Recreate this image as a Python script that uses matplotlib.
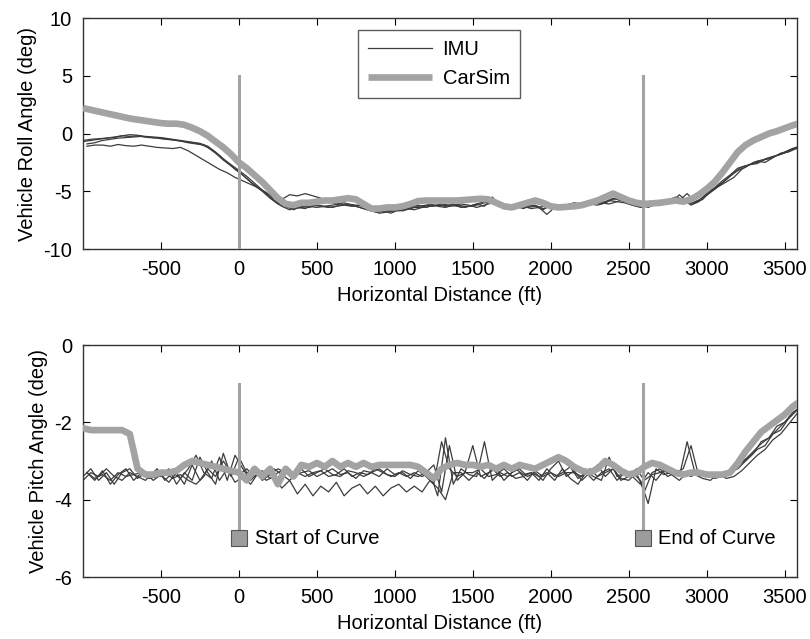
import numpy as np
import matplotlib
matplotlib.use("Agg")
import matplotlib.pyplot as plt

plt.rcParams['font.family'] = ['Liberation Sans', 'DejaVu Sans']
plt.rcParams['axes.unicode_minus'] = False

# distance grid (ft), 50 ft steps; second grid shifted by 25 ft for some runs
dist = np.arange(-1000, 3601, 50)
dist_shift = dist + 25

curve_start = 0
curve_end = 2590

# ---- roll angle (deg) ----
roll_carsim = [
    2.2, 2.05, 1.9, 1.75, 1.6, 1.45, 1.3, 1.2, 1.1, 1.0,
    0.9, 0.85, 0.85, 0.75, 0.5, 0.2, -0.2, -0.7, -1.2, -1.8,
    -2.5, -3.0, -3.6, -4.2, -4.9, -5.6, -6.1, -6.2, -6.0, -6.0,
    -5.9, -5.8, -5.8, -5.7, -5.6, -5.7, -6.1, -6.5, -6.5, -6.4,
    -6.4, -6.3, -6.1, -5.85, -5.8, -5.8, -5.8, -5.8, -5.8, -5.75,
    -5.7, -5.65, -5.7, -6.0, -6.3, -6.4, -6.2, -6.0, -5.8, -6.0,
    -6.3, -6.4, -6.35, -6.3, -6.2, -6.0, -5.8, -5.5, -5.2, -5.5,
    -5.8, -6.0, -6.1, -6.05, -6.0, -5.9, -5.8, -5.9, -5.7, -5.3,
    -4.8, -4.2, -3.4, -2.5, -1.6, -1.0, -0.6, -0.3, 0.0, 0.2,
    0.45, 0.7, 0.9,
]

roll_imu_a = [
    -0.7, -0.6, -0.5, -0.4, -0.35, -0.2, -0.25, -0.2, -0.3, -0.35,
    -0.4, -0.5, -0.6, -0.7, -0.8, -0.9, -1.2, -1.7, -2.3, -2.8,
    -3.3, -3.9, -4.5, -5.0, -5.6, -6.1, -6.4, -6.5, -6.4, -6.3,
    -6.4, -6.3, -6.2, -6.1, -6.2, -6.3, -6.5, -6.7, -6.8, -6.7,
    -6.6, -6.7, -6.5, -6.3, -6.2, -6.3, -6.1, -6.2, -6.3, -6.4,
    -6.2, -6.0, -5.8, -6.1, -6.3, -6.5, -6.4, -6.3, -6.2, -6.5,
    -6.3, -6.4, -6.2, -6.0, -6.1, -6.2, -6.0, -5.9, -5.6, -5.8,
    -6.1, -6.3, -6.2, -6.0, -6.1, -5.9, -5.6, -5.8, -6.1, -5.8,
    -5.2, -4.7, -4.1, -3.6, -3.0, -2.8, -2.6, -2.4, -2.1, -1.9,
    -1.6, -1.3, -1.1,
]
roll_imu_b = [
    -0.9, -0.8, -0.6, -0.5, -0.4, -0.35, -0.3, -0.25, -0.35, -0.4,
    -0.5, -0.55, -0.65, -0.8, -0.9, -1.0, -1.4, -1.9, -2.5, -3.1,
    -3.6, -4.2, -4.7, -5.2, -5.8, -6.3, -6.6, -6.4, -6.5, -6.2,
    -6.3, -6.4, -6.3, -6.2, -6.3, -6.2, -6.4, -6.6, -6.7, -6.6,
    -6.7, -6.5, -6.6, -6.4, -6.3, -6.2, -6.3, -6.1, -6.4, -6.3,
    -6.1, -6.3, -5.5, -6.2, -6.4, -6.3, -6.5, -6.2, -6.4, -7.0,
    -6.4, -6.2, -6.3, -6.1, -6.2, -6.0, -6.1, -5.8, -5.9, -6.0,
    -6.2, -6.4, -6.3, -6.1, -5.9, -6.0, -5.3, -5.9, -6.0, -5.7,
    -5.0, -4.5, -4.0, -3.4, -2.9, -2.7, -2.6, -2.2, -2.0, -1.8,
    -1.5, -1.2, -1.0,
]
roll_imu_c = [
    -0.6, -0.5, -0.45, -0.4, -0.3, -0.2, -0.1, -0.15, -0.25, -0.3,
    -0.35, -0.45, -0.55, -0.65, -0.75, -0.85, -1.1, -1.6, -2.2, -2.7,
    -3.2, -3.7, -4.3, -4.9, -5.5, -6.0, -6.2, -6.6, -6.3, -6.4,
    -6.2, -6.3, -6.4, -6.2, -6.1, -6.2, -6.3, -6.6, -6.9, -6.8,
    -6.7, -6.6, -6.4, -6.2, -6.4, -6.2, -6.2, -6.3, -6.2, -6.3,
    -6.3, -6.1, -5.9, -6.0, -6.2, -6.4, -6.3, -6.4, -6.3, -6.6,
    -6.2, -6.3, -6.4, -6.2, -6.0, -6.1, -6.2, -6.0, -5.7, -5.6,
    -6.0, -6.2, -6.1, -6.2, -6.0, -5.8, -5.5, -5.7, -6.2, -5.9,
    -5.3, -4.8, -4.3, -3.7, -3.2, -2.9, -2.5, -2.3, -2.2, -1.9,
    -1.7, -1.4, -1.2,
]
roll_imu_d = [
    -1.1, -1.0, -1.0, -1.1, -0.95, -1.05, -1.1, -1.0, -1.1, -1.2,
    -1.25, -1.3, -1.2, -1.5, -1.9, -2.3, -2.7, -3.1, -3.4, -3.8,
    -4.1, -4.4, -4.7, -5.1, -5.6, -5.7, -5.3, -5.4, -5.2, -5.4,
    -5.6, -5.9, -6.1, -6.0, -6.2, -6.4, -6.6, -6.8, -6.7, -6.9,
    -6.6, -6.5, -6.4, -6.4, -6.1, -6.3, -6.4, -6.2, -6.1, -6.2,
    -6.4, -6.2, -6.0, -6.3, -6.5, -6.2, -6.3, -6.5, -6.4, -6.2,
    -6.5, -6.3, -6.1, -6.3, -6.2, -5.9, -6.0, -6.1, -5.9, -5.7,
    -6.2, -6.1, -6.4, -6.1, -6.0, -5.8, -5.8, -5.2, -5.9, -5.6,
    -5.1, -4.6, -4.2, -3.8, -3.1, -2.7, -2.4, -2.5, -2.1, -1.7,
    -1.6, -1.3, -1.2,
]

# ---- pitch angle (deg) ----
pitch_carsim = [
    -2.15, -2.2, -2.2, -2.2, -2.2, -2.2, -2.3, -3.2, -3.35, -3.35,
    -3.3, -3.3, -3.25, -3.1, -3.0, -3.05, -3.1, -3.15, -3.2, -3.25,
    -3.3, -3.5, -3.2, -3.4, -3.2, -3.6, -3.2, -3.4, -3.1, -3.15,
    -3.05, -3.15, -3.0, -3.15, -3.05, -3.15, -3.05, -3.15, -3.1, -3.1,
    -3.1, -3.1, -3.1, -3.15, -3.3, -3.45, -3.2, -3.1, -3.05, -3.1,
    -3.1, -3.15, -3.1, -3.2, -3.1, -3.2, -3.1, -3.15, -3.2, -3.1,
    -3.0, -2.9, -3.0, -3.15, -3.25, -3.3, -3.2, -3.0, -3.1, -3.25,
    -3.35, -3.3, -3.15, -3.05, -3.1, -3.2, -3.3, -3.35, -3.3, -3.3,
    -3.35, -3.35, -3.35, -3.3, -3.05, -2.75, -2.5, -2.25, -2.1, -1.95,
    -1.8, -1.6, -1.45,
]

pitch_imu_a = [
    -3.4, -3.2, -3.5, -3.3, -3.6, -3.3, -3.2, -3.45, -3.3, -3.5,
    -3.35, -3.55, -3.3, -3.6, -3.1, -3.5, -3.2, -3.4, -3.0, -3.3,
    -3.35, -3.2, -3.4, -3.25, -3.45, -3.3, -3.2, -3.4, -3.3, -3.25,
    -3.4, -3.3, -3.2, -3.35, -3.3, -3.45, -3.25, -3.3, -3.4, -3.2,
    -3.35, -3.3, -3.45, -3.25, -3.4, -3.6, -2.5, -3.2, -3.4, -3.3,
    -2.6, -3.4, -3.3, -3.2, -3.5, -3.3, -3.2, -3.4, -3.3, -3.5,
    -3.2, -3.0, -3.4, -3.25, -3.5, -3.3, -3.1, -3.4, -3.2, -3.45,
    -3.5, -3.3, -3.8, -3.3, -3.2, -3.4, -3.3, -3.2, -2.6, -3.4,
    -3.3, -3.45, -3.4, -3.3, -3.2, -3.0, -2.8, -2.5, -2.4, -2.1,
    -2.0, -1.8, -1.6,
]
pitch_imu_b = [
    -3.3, -3.5, -3.25, -3.6, -3.35, -3.2, -3.5, -3.3, -3.4, -3.2,
    -3.5, -3.3, -3.45, -3.2, -2.85, -3.3, -3.45, -2.9, -3.5, -2.85,
    -3.2, -3.5, -3.3, -3.4, -3.2, -3.35, -3.5, -3.3, -3.4, -3.3,
    -3.25, -3.4, -3.35, -3.2, -3.4, -3.3, -3.35, -3.2, -3.3, -3.4,
    -3.3, -3.4, -3.3, -3.4, -3.3, -3.9, -2.4, -3.6, -3.2, -3.35,
    -3.4, -2.5, -3.5, -3.3, -3.4, -3.2, -3.35, -3.3, -3.5, -3.2,
    -3.4, -3.3, -3.15, -3.45, -3.3, -3.5, -3.3, -3.2, -3.5, -3.3,
    -3.3, -3.5, -4.1, -3.2, -3.35, -3.3, -3.4, -2.5, -3.3, -3.35,
    -3.4, -3.3, -3.35, -3.2, -3.05, -2.9, -2.7, -2.6, -2.3, -2.2,
    -1.9, -1.7, -1.5,
]
pitch_imu_c = [
    -3.5, -3.3, -3.4, -3.2, -3.4, -3.5, -3.3, -3.4, -3.5, -3.3,
    -3.4, -3.2, -3.6, -3.3, -3.5, -2.9, -3.3, -3.6, -2.8, -3.4,
    -2.9, -3.3, -3.25, -3.5, -3.35, -3.2, -3.3, -3.35, -3.2, -3.4,
    -3.3, -3.2, -3.35, -3.4, -3.25, -3.3, -3.4, -3.3, -3.2, -3.35,
    -3.4, -3.25, -3.35, -3.4, -3.3, -3.1, -3.8, -2.6, -3.5, -3.3,
    -3.3, -3.2, -3.4, -3.35, -3.2, -3.4, -3.3, -3.5, -3.25, -3.4,
    -3.3, -3.4, -3.3, -3.3, -3.4, -3.2, -3.4, -3.3, -3.2, -3.5,
    -3.4, -3.2, -3.5, -3.35, -3.3, -3.2, -3.35, -3.3, -3.4, -3.3,
    -3.3, -3.4, -3.3, -3.35, -3.1, -2.95, -2.75, -2.55, -2.4, -2.2,
    -2.0, -1.75, -1.6,
]
pitch_imu_d = [
    -3.3, -3.45, -3.35, -3.5, -3.3, -3.4, -3.35, -3.3, -3.45, -3.4,
    -3.3, -3.45, -3.35, -3.5, -3.6, -3.4, -3.0, -3.5, -3.2, -3.55,
    -3.4, -3.6, -3.3, -3.5, -3.4, -3.7, -3.5, -3.85, -3.6, -3.9,
    -3.65, -3.8, -3.55, -3.9, -3.7, -3.6, -3.85, -3.65, -3.9, -3.7,
    -3.6, -3.8, -3.65, -3.8, -3.5, -3.7, -4.0, -3.3, -3.3, -3.5,
    -3.3, -3.45, -3.2, -3.4, -3.3, -3.45, -3.4, -3.3, -3.4, -3.3,
    -3.5, -3.2, -3.45, -3.6, -3.3, -3.4, -3.5, -2.9, -3.4, -3.3,
    -3.4, -3.6, -3.3, -3.5, -3.25, -3.35, -3.5, -3.3, -3.35, -3.45,
    -3.5, -3.3, -3.45, -3.4, -3.25, -3.05, -2.85, -2.7, -2.45, -2.3,
    -2.05, -1.8, -1.5,
]

roll_imu = [(dist, roll_imu_a), (dist_shift, roll_imu_b),
            (dist, roll_imu_c), (dist_shift, roll_imu_d)]
pitch_imu = [(dist, pitch_imu_a), (dist_shift, pitch_imu_b),
             (dist, pitch_imu_c), (dist_shift, pitch_imu_d)]

xticks = [-500, 0, 500, 1000, 1500, 2000, 2500, 3000, 3500]

imu_color = '#3c3c3c'
sim_color = '#a3a3a3'
FS = 14.5


def style_axes(ax, ylim, yticks):
    ax.set_xlim(-1000, 3580)
    ax.set_ylim(*ylim)
    ax.set_xticks(xticks)
    ax.set_yticks(yticks)
    ax.tick_params(direction='in', top=True, right=True, length=5,
                   width=0.8, labelsize=FS, pad=8)
    for s in ax.spines.values():
        s.set_linewidth(1.0)
        s.set_color('#333333')
    ax.set_xlabel('Horizontal Distance (ft)', fontsize=FS, labelpad=5)


fig = plt.figure(figsize=(8.1, 6.39), dpi=100)
ax1 = fig.add_axes([0.1025, 0.6103, 0.8815, 0.3615])
ax2 = fig.add_axes([0.1025, 0.097, 0.8815, 0.363])

# top: roll
for i, (xs, tr) in enumerate(roll_imu):
    ax1.plot(xs, tr, color=imu_color, lw=0.9, zorder=2,
             label='IMU' if i == 0 else None)
ax1.plot(dist, roll_carsim, color=sim_color, lw=4.8, zorder=3,
         solid_capstyle='butt', label='CarSim')
ax1.plot([curve_start, curve_start], [-10, 5], color=sim_color, lw=2.2, zorder=4)
ax1.plot([curve_end, curve_end], [-10, 5], color=sim_color, lw=2.2, zorder=4)
style_axes(ax1, (-10, 10), [-10, -5, 0, 5, 10])
ax1.set_ylabel('Vehicle Roll Angle (deg)', fontsize=FS)
leg = ax1.legend(loc='upper left', bbox_to_anchor=(0.385, 0.948), fontsize=FS,
                 handlelength=3.2, frameon=True, fancybox=False,
                 borderaxespad=0, borderpad=0.5, labelspacing=0.5,
                 handletextpad=0.5)
leg.get_frame().set_edgecolor('#333333')
leg.get_frame().set_linewidth(1.0)

# bottom: pitch
for xs, tr in pitch_imu:
    ax2.plot(xs, tr, color=imu_color, lw=0.9, zorder=2)
ax2.plot(dist, pitch_carsim, color=sim_color, lw=4.8, zorder=3)
for xc, txt in [(curve_start, 'Start of Curve'), (curve_end, 'End of Curve')]:
    ax2.plot([xc, xc], [-5, -1], color=sim_color, lw=2.2, zorder=4)
    ax2.plot([xc], [-5], marker='s', ms=12, mfc='#9c9c9c', mec='#555555',
             mew=0.8, zorder=5)
    ax2.text(xc + 100, -5, txt, fontsize=FS, va='center', ha='left')
style_axes(ax2, (-6, 0), [-6, -4, -2, 0])
ax2.set_ylabel('Vehicle Pitch Angle (deg)', fontsize=FS)

fig.savefig('out.png', dpi=100)
